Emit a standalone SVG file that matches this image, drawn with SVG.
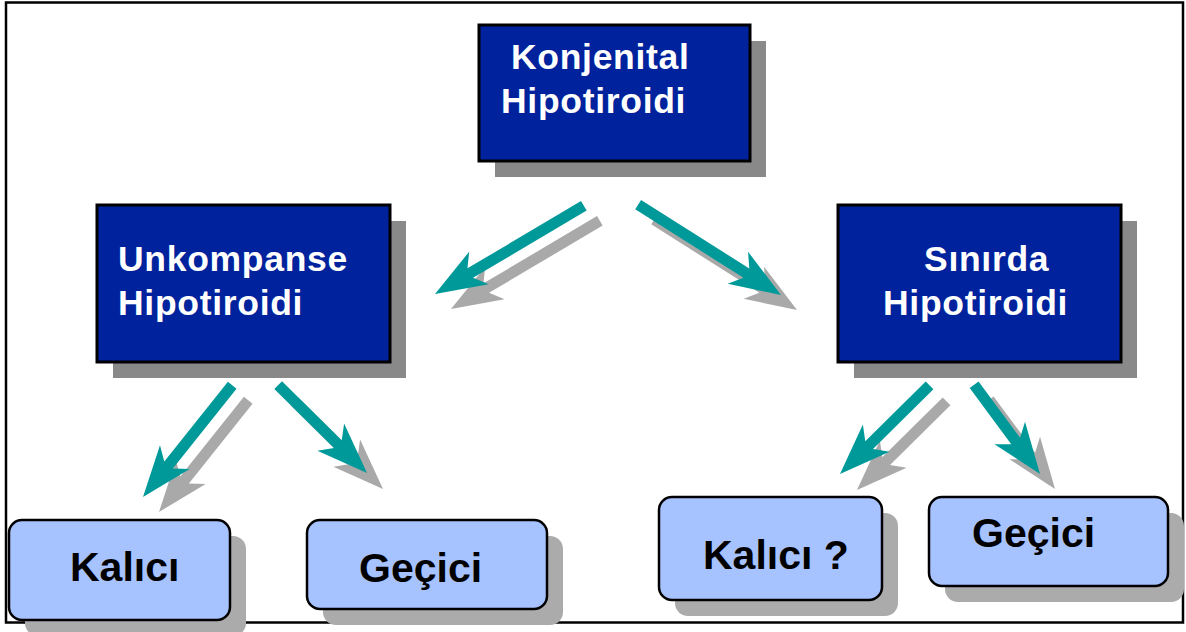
<svg xmlns="http://www.w3.org/2000/svg" width="1186" height="632" viewBox="0 0 1186 632">
<style>
.frame{fill:#fff;stroke:#000;stroke-width:2.5}
.navy{fill:#00229c;stroke:#000;stroke-width:3}
.nshadow{fill:#898989}
.light{fill:#a6c2ff;stroke:#000;stroke-width:2.5}
.lshadow{fill:#ababab}
.arrow{fill:#009999}
.ashadow{fill:#a9a9a9}
.wt{font-family:"Liberation Sans",Arial,sans-serif;font-weight:bold;font-size:35.5px;fill:#fff;letter-spacing:0.7px}
.bt{font-family:"Liberation Sans",Arial,sans-serif;font-weight:bold;font-size:41px;fill:#000}
</style>
<rect class="frame" x="6" y="2.5" width="1177" height="620"/>
<g id="connectors">
  <g id="arrow-shadows" class="ashadow">
    <path transform="translate(451,309) rotate(149.35)" d="M0,0 L-51,-19 L-41,-5.5 L-173,-5.5 L-173,5.5 L-41,5.5 L-51,19 Z"/>
    <path transform="translate(797,310) rotate(32.3)" d="M0,0 L-51,-19 L-41,-5.5 L-169,-5.5 L-169,5.5 L-41,5.5 L-51,19 Z"/>
    <path transform="translate(159,512) rotate(128.6)" d="M0,0 L-51,-19 L-41,-5.5 L-143,-5.5 L-143,5.5 L-41,5.5 L-51,19 Z"/>
    <path transform="translate(383,489) rotate(44.7)" d="M0,0 L-51,-19 L-41,-5.5 L-125,-5.5 L-125,5.5 L-41,5.5 L-51,19 Z"/>
    <path transform="translate(857,490) rotate(135.3)" d="M0,0 L-51,-19 L-41,-5.5 L-126,-5.5 L-126,5.5 L-41,5.5 L-51,19 Z"/>
    <path transform="translate(1055,489) rotate(53.6)" d="M0,0 L-51,-19 L-41,-5.5 L-111,-5.5 L-111,5.5 L-41,5.5 L-51,19 Z"/>
  </g>
  <g id="arrows" class="arrow">
    <path transform="translate(435,294) rotate(149.35)" d="M0,0 L-51,-19 L-41,-5.5 L-173,-5.5 L-173,5.5 L-41,5.5 L-51,19 Z"/>
    <path transform="translate(781,295) rotate(32.3)" d="M0,0 L-51,-19 L-41,-5.5 L-169,-5.5 L-169,5.5 L-41,5.5 L-51,19 Z"/>
    <path transform="translate(143,497) rotate(128.6)" d="M0,0 L-51,-19 L-41,-5.5 L-143,-5.5 L-143,5.5 L-41,5.5 L-51,19 Z"/>
    <path transform="translate(367,473) rotate(44.7)" d="M0,0 L-51,-19 L-41,-5.5 L-125,-5.5 L-125,5.5 L-41,5.5 L-51,19 Z"/>
    <path transform="translate(840,474) rotate(135.3)" d="M0,0 L-51,-19 L-41,-5.5 L-126,-5.5 L-126,5.5 L-41,5.5 L-51,19 Z"/>
    <path transform="translate(1040,474) rotate(53.6)" d="M0,0 L-51,-19 L-41,-5.5 L-111,-5.5 L-111,5.5 L-41,5.5 L-51,19 Z"/>
  </g>
</g>
<g id="node-konjenital">
  <rect class="nshadow" x="495" y="41" width="271" height="136"/>
  <rect class="navy" x="479" y="25" width="271" height="136"/>
  <text class="wt" x="511" y="69">Konjenital</text>
  <text class="wt" x="501" y="113">Hipotiroidi</text>
</g>
<g id="node-unkompanse">
  <rect class="nshadow" x="113" y="221" width="293" height="157"/>
  <rect class="navy" x="97" y="205" width="293" height="157"/>
  <text class="wt" x="118" y="271">Unkompanse</text>
  <text class="wt" x="118" y="315">Hipotiroidi</text>
</g>
<g id="node-sinirda">
  <rect class="nshadow" x="854" y="221" width="283" height="157"/>
  <rect class="navy" x="838" y="205" width="283" height="157"/>
  <text class="wt" x="924" y="271">Sınırda</text>
  <text class="wt" x="883" y="315">Hipotiroidi</text>
</g>
<g id="node-kalici-1">
  <rect class="lshadow" x="25" y="536" width="221" height="100" rx="13"/>
  <rect class="light" x="9" y="520" width="221" height="100" rx="13"/>
  <text class="bt" x="70" y="581">Kalıcı</text>
</g>
<g id="node-gecici-1">
  <rect class="lshadow" x="323" y="536" width="240" height="89" rx="13"/>
  <rect class="light" x="307" y="520" width="240" height="89" rx="13"/>
  <text class="bt" x="359" y="582">Geçici</text>
</g>
<g id="node-kalici-2">
  <rect class="lshadow" x="675" y="513" width="223" height="103" rx="13"/>
  <rect class="light" x="659" y="497" width="223" height="103" rx="13"/>
  <text class="bt" x="703" y="569">Kalıcı ?</text>
</g>
<g id="node-gecici-2">
  <rect class="lshadow" x="945" y="513" width="239" height="89" rx="13"/>
  <rect class="light" x="929" y="497" width="239" height="89" rx="13"/>
  <text class="bt" x="972" y="547">Geçici</text>
</g>
</svg>
